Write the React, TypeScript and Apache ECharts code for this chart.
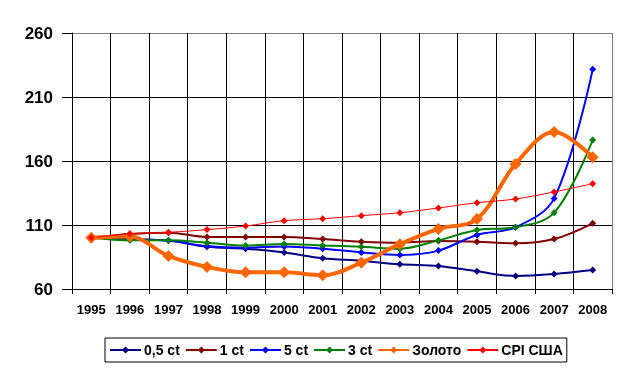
import React, { useEffect, useRef } from "react";
import * as echarts from "echarts";

const years = ["1995","1996","1997","1998","1999","2000","2001","2002","2003","2004","2005","2006","2007","2008"];
const halfCt = [100, 99, 97.8, 93, 91.5, 88.6, 84, 82.1, 79.3, 78, 73.8, 70.2, 71.7, 74.8];
const oneCt = [100, 103, 104, 100.6, 100.6, 100.6, 99, 97, 96.2, 97.5, 97, 95.7, 99, 111.3];
const fiveCt = [100, 99, 97.8, 93.5, 92.3, 93.3, 91.5, 88.6, 86.6, 90, 102.2, 108.2, 130.8, 231.6];
const threeCt = [100, 98, 98, 96.2, 94, 95.2, 94, 93, 91.5, 98, 106.1, 108.2, 119.6, 176.4];
const gold = [100, 101, 85.8, 77.2, 73, 73, 70.7, 80.6, 95, 106.9, 114.7, 157.7, 182.7, 162.9];
const cpi = [100, 103.2, 104.3, 106.4, 109.2, 113.4, 114.9, 117.3, 119.6, 123.3, 127.4, 130.3, 135.8, 142.3];

const FONT = "'Liberation Sans', Arial, sans-serif";

export default function App() {
  const ref = useRef<HTMLDivElement>(null);
  useEffect(() => {
    if (!ref.current) return;
    const chart = echarts.init(ref.current, null, { renderer: "svg" });
    const mk = (name: string, data: number[], color: string, width: number, size: number) => ({
      name,
      type: "line",
      data,
      smooth: 0.35,
      symbol: "diamond",
      symbolSize: size,
      showAllSymbol: true,
      lineStyle: { color, width },
      itemStyle: { color },
      emphasis: { disabled: true },
    });
    const vColors = Array.from({ length: 15 }, (_, i) => (i === 14 ? "#808080" : "#000000"));
    chart.setOption({
      animation: false,
      textStyle: { fontFamily: FONT },
      grid: { left: 72, top: 33, right: 15, bottom: 84, show: false },
      legend: {
        left: 105,
        top: 338,
        height: 25,
        padding: [5, 4, 5, 4],
        borderColor: "#000",
        borderWidth: 1,
        itemWidth: 31,
        itemHeight: 9,
        itemGap: 5,
        textStyle: { fontFamily: FONT, fontWeight: "bold", fontSize: 14, color: "#000", padding: [0, 0, 0, -2] },
        data: ["0,5 ct", "1 ct", "5 ct", "3 ct", "Золото", "CPI США"],
      },
      xAxis: {
        type: "category",
        data: years,
        boundaryGap: true,
        axisLine: { lineStyle: { color: "#000", width: 1 } },
        axisTick: { show: true, length: 5, lineStyle: { color: "#000" } },
        axisLabel: { fontFamily: FONT, fontWeight: "bold", fontSize: 13, color: "#000", margin: 14, interval: 0 },
        splitLine: { show: true, interval: 0, lineStyle: { color: vColors, width: 1 } },
      },
      yAxis: {
        type: "value",
        min: 60,
        max: 260,
        interval: 50,
        axisLine: { show: true, lineStyle: { color: "#000", width: 1 } },
        axisTick: { show: true, length: 10, lineStyle: { color: "#000" } },
        axisLabel: { fontFamily: FONT, fontWeight: "bold", fontSize: 17, color: "#000", margin: 19 },
        splitLine: { show: true, lineStyle: { color: ["#000", "#000", "#000", "#000", "#808080"], width: 1 } },
      },
      series: [
        mk("0,5 ct", halfCt, "#000080", 2, 7),
        mk("1 ct", oneCt, "#800000", 2, 7),
        mk("5 ct", fiveCt, "#0000FF", 2, 7),
        mk("3 ct", threeCt, "#008000", 2, 7),
        mk("Золото", gold, "#FF6600", 4, 12),
        mk("CPI США", cpi, "#FF0000", 1, 7),
      ],
    });
    return () => chart.dispose();
  }, []);
  return <div ref={ref} style={{ position: "fixed", left: 0, top: 0, width: 627, height: 373 }} />;
}
